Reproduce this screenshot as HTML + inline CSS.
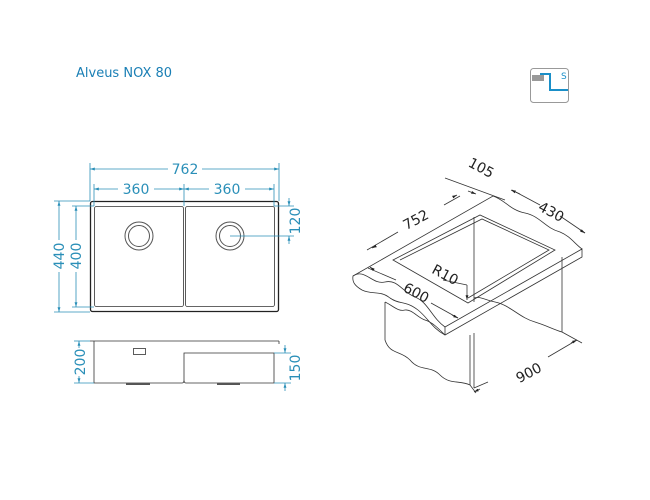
<!DOCTYPE html>
<html><head><meta charset="utf-8"><style>
html,body{margin:0;padding:0;background:#fff;}
svg{display:block;font-family:"DejaVu Sans","Liberation Sans",sans-serif;}
.d{stroke:#2a8fb8;stroke-width:0.8;fill:none}
.t{fill:#2a8fb8;font-size:14px;text-anchor:middle}
.k{stroke:#333;fill:none;stroke-width:0.8}
.ki{font-size:14px;fill:#222;text-anchor:middle}
</style></head><body>
<svg width="650" height="500" viewBox="0 0 650 500" xmlns="http://www.w3.org/2000/svg">
<defs>
<marker id="a" viewBox="0 0 10 10" refX="10" refY="5" markerWidth="6" markerHeight="6" orient="auto-start-reverse"><path d="M0,2 L10,5 L0,8z" fill="#2a8fb8"/></marker>
<marker id="b" viewBox="0 0 10 10" refX="10" refY="5" markerWidth="6" markerHeight="6" orient="auto-start-reverse"><path d="M0,2 L10,5 L0,8z" fill="#222"/></marker>
</defs>
<text x="76" y="77" style="fill:#1a7fb5;font-size:13px;font-family:'DejaVu Sans',sans-serif">Alveus NOX 80</text>
<!-- icon -->
<rect x="530.5" y="68.5" width="38" height="34" rx="3" fill="#fff" stroke="#999"/>
<rect x="532" y="75" width="12" height="6" fill="#999"/>
<path d="M540,74 H550 V90 H568" stroke="#1a8fc8" stroke-width="2" fill="none"/>
<text x="561" y="79" style="fill:#1a8fc8;font-size:9px">S</text>

<!-- top view -->
<rect x="90.5" y="201.5" width="188" height="110" rx="2" fill="none" stroke="#222" stroke-width="1.3"/>
<rect x="94.5" y="206.5" width="89" height="100" rx="2" class="k" stroke="#666"/>
<rect x="185.5" y="206.5" width="89" height="100" rx="2" class="k" stroke="#666"/>
<circle cx="139" cy="236" r="14" fill="none" stroke="#555" stroke-width="1"/>
<circle cx="139" cy="236" r="10.5" fill="none" stroke="#555" stroke-width="1"/>
<circle cx="230" cy="236" r="14" fill="none" stroke="#555" stroke-width="1"/>
<circle cx="230" cy="236" r="10.5" fill="none" stroke="#555" stroke-width="1"/>

<g class="d">
<line x1="90" y1="163" x2="90" y2="201"/><line x1="279" y1="163" x2="279" y2="201"/>
<line x1="94" y1="184" x2="94" y2="206"/><line x1="184" y1="184" x2="184" y2="206"/><line x1="274" y1="184" x2="274" y2="206"/>
<line x1="90" y1="169" x2="168" y2="169" marker-start="url(#a)"/><line x1="202" y1="169" x2="279" y2="169" marker-end="url(#a)"/>
<line x1="94" y1="189" x2="118" y2="189" marker-start="url(#a)"/><line x1="154" y1="189" x2="184" y2="189" marker-end="url(#a)"/>
<line x1="184" y1="189" x2="209" y2="189" marker-start="url(#a)"/><line x1="245" y1="189" x2="274" y2="189" marker-end="url(#a)"/>
<line x1="54" y1="201" x2="90" y2="201"/><line x1="54" y1="312" x2="90" y2="312"/>
<line x1="72" y1="206" x2="94" y2="206"/><line x1="72" y1="307" x2="94" y2="307"/>
<line x1="59" y1="201" x2="59" y2="240" marker-start="url(#a)"/><line x1="59" y1="272" x2="59" y2="312" marker-end="url(#a)"/>
<line x1="76" y1="206" x2="76" y2="240" marker-start="url(#a)"/><line x1="76" y1="272" x2="76" y2="307" marker-end="url(#a)"/>
<line x1="274" y1="206" x2="294" y2="206"/><line x1="230" y1="236" x2="294" y2="236"/>
<line x1="289" y1="198" x2="289" y2="206" marker-end="url(#a)"/><line x1="289" y1="244" x2="289" y2="236" marker-end="url(#a)"/>
</g>
<text class="t" x="185" y="174">762</text>
<text class="t" x="136" y="194">360</text>
<text class="t" x="227" y="194">360</text>
<text class="t" transform="translate(64,256) rotate(-90)">440</text>
<text class="t" transform="translate(81,256) rotate(-90)">400</text>
<text class="t" transform="translate(300,221) rotate(-90)">120</text>

<!-- side view -->
<g class="k" stroke="#555">
<line x1="90" y1="341" x2="279" y2="341"/>
<line x1="279" y1="341" x2="279" y2="344"/>
<path d="M94,341 V383 H182 Q184,383 184,380 V353 H274 V383 H186 Q184,383 184,380"/>
<rect x="133.5" y="348.5" width="12" height="6"/>
</g>
<rect x="126" y="383" width="24" height="2" fill="#555"/>
<rect x="217" y="383" width="23" height="2" fill="#555"/>
<g class="d">
<line x1="74" y1="341" x2="90" y2="341"/><line x1="74" y1="383" x2="94" y2="383"/>
<line x1="79" y1="348" x2="79" y2="341" marker-end="url(#a)"/><line x1="79" y1="376" x2="79" y2="383" marker-end="url(#a)"/>
<line x1="274" y1="353" x2="291" y2="353"/><line x1="274" y1="383" x2="291" y2="383"/>
<line x1="285" y1="345" x2="285" y2="353" marker-end="url(#a)"/><line x1="285" y1="391" x2="285" y2="383" marker-end="url(#a)"/>
</g>
<text class="t" transform="translate(85,362) rotate(-90)">200</text>
<text class="t" transform="translate(300,368) rotate(-90)">150</text>

<!-- iso view -->
<g class="k" stroke="#333" stroke-width="0.9">
<!-- slab top with wavy left/back edge -->
<path d="M353,276 C365,268 372,285 385,282 C398,279 402,292 415,297 C428,302 432,318 445,327 L582,249 L582,257 L445,335 C432,328 428,318 418,310 C405,300 400,305 390,298 C380,290 372,295 362,290 C355,286 352,282 353,276 Z"/>
<path d="M353,276 L493,196 C505,200 510,210 525,213 C540,216 545,228 560,232 C570,236 575,244 582,249"/>
<line x1="445" y1="327" x2="445" y2="335"/>
<!-- opening -->
<path d="M393,260 L480,215 L555,250 L468,303 Z"/>
<path d="M400,260 L482,219 L549,250 L468,298"/>
<line x1="474" y1="217" x2="474" y2="302"/>
<!-- cabinet -->
<path d="M385,302 V340 C390,355 400,350 410,360 C420,372 430,365 440,375 C450,385 460,380 470,385"/>
<line x1="470" y1="335" x2="470" y2="385"/><line x1="474" y1="333" x2="474" y2="388"/>
<path d="M562,257 V332 C555,330 545,325 535,322 C520,318 510,305 495,302 C485,300 480,296 474,298"/>
<path d="M385,302 C392,305 398,312 405,310 C412,309 418,318 425,320 C432,322 438,328 445,335"/>
</g>
<g class="k" stroke="#333" stroke-width="0.7">
<line x1="367" y1="250" x2="398" y2="232"/><line x1="444" y1="205" x2="460" y2="196"/>
<line x1="445" y1="178" x2="505" y2="200"/>
<line x1="512" y1="190" x2="540" y2="205"/><line x1="560" y1="216" x2="585" y2="233"/>
<line x1="368" y1="268" x2="396" y2="280"/><line x1="431" y1="303" x2="458" y2="318"/>
<line x1="474" y1="388" x2="488" y2="382"/><line x1="548" y1="357" x2="577" y2="340"/>
<line x1="562" y1="332" x2="582" y2="343"/><line x1="470" y1="385" x2="476" y2="393"/>
<line x1="443" y1="280" x2="467" y2="285"/><line x1="467" y1="285" x2="467" y2="300" marker-end="url(#b)"/>
<line x1="372" y1="248" x2="374" y2="247" marker-start="url(#b)"/>
<line x1="455" y1="196" x2="457" y2="195" marker-end="url(#b)"/>
<line x1="468" y1="191" x2="476" y2="194" marker-end="url(#b)"/>
<line x1="520" y1="194" x2="511" y2="190" marker-end="url(#b)"/>
<line x1="580" y1="230" x2="585" y2="233" marker-end="url(#b)"/>
<line x1="374" y1="270" x2="370" y2="267" marker-end="url(#b)"/>
<line x1="452" y1="315" x2="458" y2="318" marker-end="url(#b)"/>
<line x1="480" y1="389" x2="474" y2="392" marker-end="url(#b)"/>
<line x1="571" y1="343" x2="577" y2="340" marker-end="url(#b)"/>
</g>
<text class="ki" transform="translate(418,224) rotate(-28)">752</text>
<text class="ki" transform="translate(479,172) rotate(28)">105</text>
<text class="ki" transform="translate(549,216) rotate(28)">430</text>
<text class="ki" transform="translate(414,297) rotate(28)">600</text>
<text class="ki" transform="translate(531,377) rotate(-28)">900</text>
<text class="ki" transform="translate(443,279) rotate(28)">R10</text>
</svg>
</body></html>
